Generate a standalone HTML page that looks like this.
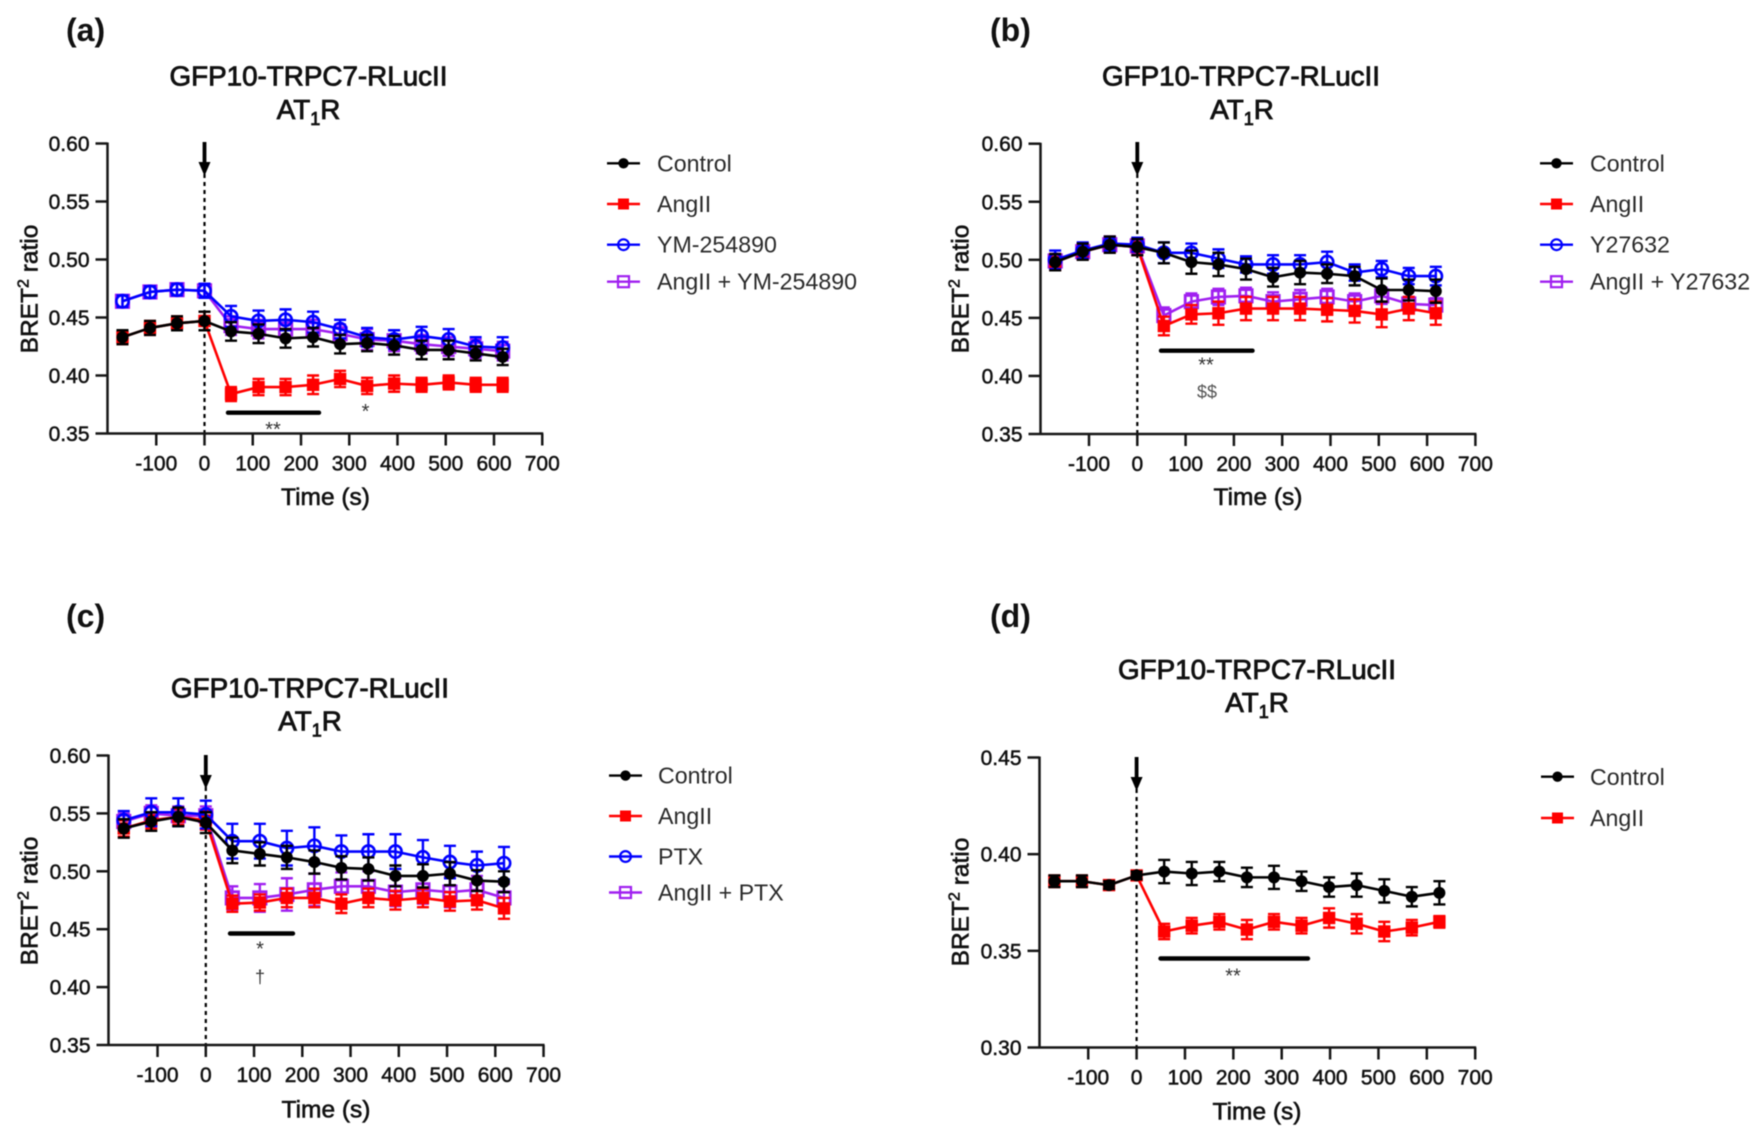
<!DOCTYPE html>
<html lang="en">
<head>
<meta charset="utf-8">
<title>BRET2 ratio time courses, GFP10-TRPC7-RLucII</title>
<style>
  html, body { margin: 0; padding: 0; background: #fff; }
  #figure { display: block; filter: blur(0.65px); }
  text { font-family: "Liberation Sans", Arial, sans-serif; }
  .panel-label { font-size: 32px; font-weight: bold; fill: #111; }
  .title { font-size: 27.8px; fill: #111; stroke: #111; stroke-width: .85px; text-anchor: middle; }
  .axis-title { font-size: 24.5px; fill: #111; stroke: #111; stroke-width: .6px; text-anchor: middle; }
  .tick-label { font-size: 21px; fill: #111; stroke: #111; stroke-width: .5px; }
  .legend-label { font-size: 23.2px; fill: #2a2a2a; }
  .sig { fill: #333; text-anchor: middle; }
</style>
</head>
<body>
<svg id="figure" xmlns="http://www.w3.org/2000/svg" width="1762" height="1138" viewBox="0 0 1762 1138">
  <rect x="0" y="0" width="1762" height="1138" fill="#fff"/>

  <!-- Panel a -->
  <g id="panel-a">
    <text class="panel-label" x="66" y="41">(a)</text>
    <text class="title" x="308.5" y="85.5">GFP10-TRPC7-RLucII</text>
    <text class="title" x="308.5" y="119">AT<tspan font-size="18" dy="6">1</tspan><tspan dy="-6">R</tspan></text>
    <text class="axis-title" transform="translate(37.5,289) rotate(-90)">BRET<tspan font-size="16" dy="-9">2</tspan><tspan dy="9"> ratio</tspan></text>
    <text class="axis-title" x="325.5" y="505">Time (s)</text>
    <line x1="228" y1="412.7" x2="319" y2="412.7" stroke="#000" stroke-width="4.4" stroke-linecap="round"/>
    <text class="sig" x="273" y="436" font-size="20">**</text>
    <text class="sig" x="365.5" y="418" font-size="20">*</text>
    <g>
      <g><line x1="607" x2="640" y1="163.3" y2="163.3" stroke="#000" stroke-width="2.4"/><circle cx="623.5" cy="163.3" r="5.2" fill="#000"/><text class="legend-label" x="657" y="171.5">Control</text></g>
      <g><line x1="607" x2="640" y1="204" y2="204" stroke="#f00" stroke-width="2.4"/><rect x="618" y="198.5" width="11" height="11" fill="#f00"/><text class="legend-label" x="657" y="212">AngII</text></g>
      <g><line x1="607" x2="640" y1="244.7" y2="244.7" stroke="#00f" stroke-width="2.4"/><circle cx="623.5" cy="244.7" r="5.4" fill="none" stroke="#00f" stroke-width="2.2"/><text class="legend-label" x="657" y="252.5">YM-254890</text></g>
      <g><line x1="607" x2="640" y1="281.7" y2="281.7" stroke="#a020f0" stroke-width="2.4"/><rect x="618" y="276.2" width="11" height="11" fill="none" stroke="#a020f0" stroke-width="2.2"/><text class="legend-label" x="657" y="289.5">AngII + YM-254890</text></g>
    </g>
  </g>

  <!-- Panel b -->
  <g id="panel-b">
    <text class="panel-label" x="990" y="41">(b)</text>
    <text class="title" x="1241" y="85.5">GFP10-TRPC7-RLucII</text>
    <text class="title" x="1242" y="119">AT<tspan font-size="18" dy="6">1</tspan><tspan dy="-6">R</tspan></text>
    <text class="axis-title" transform="translate(968.5,289) rotate(-90)">BRET<tspan font-size="16" dy="-9">2</tspan><tspan dy="9"> ratio</tspan></text>
    <text class="axis-title" x="1258" y="505">Time (s)</text>
    <line x1="1161" y1="350.7" x2="1252.5" y2="350.7" stroke="#000" stroke-width="4.4" stroke-linecap="round"/>
    <text class="sig" x="1206" y="371.5" font-size="20">**</text>
    <text class="sig" x="1207" y="398" font-size="18" style="fill:#555">$$</text>
    <g>
      <g><line x1="1540" x2="1573" y1="163.3" y2="163.3" stroke="#000" stroke-width="2.4"/><circle cx="1556.5" cy="163.3" r="5.2" fill="#000"/><text class="legend-label" x="1590" y="171.5">Control</text></g>
      <g><line x1="1540" x2="1573" y1="204" y2="204" stroke="#f00" stroke-width="2.4"/><rect x="1551" y="198.5" width="11" height="11" fill="#f00"/><text class="legend-label" x="1590" y="212">AngII</text></g>
      <g><line x1="1540" x2="1573" y1="244.7" y2="244.7" stroke="#00f" stroke-width="2.4"/><circle cx="1556.5" cy="244.7" r="5.4" fill="none" stroke="#00f" stroke-width="2.2"/><text class="legend-label" x="1590" y="252.5">Y27632</text></g>
      <g><line x1="1540" x2="1573" y1="281.7" y2="281.7" stroke="#a020f0" stroke-width="2.4"/><rect x="1551" y="276.2" width="11" height="11" fill="none" stroke="#a020f0" stroke-width="2.2"/><text class="legend-label" x="1590" y="289.5">AngII + Y27632</text></g>
    </g>
  </g>

  <!-- Panel c -->
  <g id="panel-c">
    <text class="panel-label" x="66" y="627">(c)</text>
    <text class="title" x="310" y="697.5">GFP10-TRPC7-RLucII</text>
    <text class="title" x="310" y="730.5">AT<tspan font-size="18" dy="6">1</tspan><tspan dy="-6">R</tspan></text>
    <text class="axis-title" transform="translate(37.5,901) rotate(-90)">BRET<tspan font-size="16" dy="-9">2</tspan><tspan dy="9"> ratio</tspan></text>
    <text class="axis-title" x="326" y="1117.5">Time (s)</text>
    <line x1="230" y1="933.5" x2="293" y2="933.5" stroke="#000" stroke-width="4.4" stroke-linecap="round"/>
    <text class="sig" x="260" y="955.5" font-size="20">*</text>
    <text class="sig" x="260" y="983" font-size="18">†</text>
    <g>
      <g><line x1="609" x2="642" y1="775.6" y2="775.6" stroke="#000" stroke-width="2.4"/><circle cx="625.5" cy="775.6" r="5.2" fill="#000"/><text class="legend-label" x="658" y="783.5">Control</text></g>
      <g><line x1="609" x2="642" y1="816" y2="816" stroke="#f00" stroke-width="2.4"/><rect x="620" y="810.5" width="11" height="11" fill="#f00"/><text class="legend-label" x="658" y="824">AngII</text></g>
      <g><line x1="609" x2="642" y1="856.5" y2="856.5" stroke="#00f" stroke-width="2.4"/><circle cx="625.5" cy="856.5" r="5.4" fill="none" stroke="#00f" stroke-width="2.2"/><text class="legend-label" x="658" y="864.5">PTX</text></g>
      <g><line x1="609" x2="642" y1="892.5" y2="892.5" stroke="#a020f0" stroke-width="2.4"/><rect x="620" y="887" width="11" height="11" fill="none" stroke="#a020f0" stroke-width="2.2"/><text class="legend-label" x="658" y="900.5">AngII + PTX</text></g>
    </g>
  </g>

  <!-- Panel d -->
  <g id="panel-d">
    <text class="panel-label" x="990" y="627">(d)</text>
    <text class="title" x="1257" y="679">GFP10-TRPC7-RLucII</text>
    <text class="title" x="1257" y="712">AT<tspan font-size="18" dy="6">1</tspan><tspan dy="-6">R</tspan></text>
    <text class="axis-title" transform="translate(968.5,902) rotate(-90)">BRET<tspan font-size="16" dy="-9">2</tspan><tspan dy="9"> ratio</tspan></text>
    <text class="axis-title" x="1257" y="1119.5">Time (s)</text>
    <line x1="1160.5" y1="958.5" x2="1308" y2="958.5" stroke="#000" stroke-width="4.4" stroke-linecap="round"/>
    <text class="sig" x="1233" y="982.5" font-size="20">**</text>
    <g>
      <g><line x1="1541" x2="1574" y1="776.7" y2="776.7" stroke="#000" stroke-width="2.4"/><circle cx="1557.5" cy="776.7" r="5.2" fill="#000"/><text class="legend-label" x="1590" y="785">Control</text></g>
      <g><line x1="1541" x2="1574" y1="818" y2="818" stroke="#f00" stroke-width="2.4"/><rect x="1552" y="812.5" width="11" height="11" fill="#f00"/><text class="legend-label" x="1590" y="826">AngII</text></g>
    </g>
  </g>
</svg>

<script>
// ---- Shared axis data ----
const xTickValues = [-100, 0, 100, 200, 300, 400, 500, 600, 700];
const yTicksUpper = [0.35, 0.40, 0.45, 0.50, 0.55, 0.60];
const yTicksLower = [0.30, 0.35, 0.40, 0.45];
const timesABC = [-170, -113, -57, 0, 55, 112, 168, 225, 281, 337, 393, 450, 506, 562, 618];
const timesD = [-170, -113, -57, 0, 57, 114, 171, 228, 284, 341, 398, 455, 512, 569, 626];

// ---- Panel a ----
const controlA = [0.433, 0.441, 0.445, 0.447, 0.438, 0.436, 0.432, 0.433, 0.427, 0.428, 0.426, 0.422, 0.422, 0.419, 0.416];
const controlAErr = [0.006, 0.006, 0.006, 0.008, 0.008, 0.008, 0.008, 0.008, 0.008, 0.007, 0.008, 0.008, 0.008, 0.006, 0.007];
const angiiA = [0.433, 0.441, 0.445, 0.447, 0.384, 0.390, 0.390, 0.392, 0.397, 0.391, 0.393, 0.392, 0.394, 0.392, 0.392];
const angiiAErr = [0.006, 0.006, 0.006, 0.008, 0.006, 0.007, 0.007, 0.008, 0.007, 0.007, 0.007, 0.006, 0.006, 0.006, 0.006];
const inhibitorA = [0.464, 0.472, 0.474, 0.473, 0.451, 0.447, 0.448, 0.446, 0.440, 0.433, 0.431, 0.434, 0.431, 0.425, 0.424];
const inhibitorAErr = [0.005, 0.005, 0.005, 0.006, 0.009, 0.009, 0.009, 0.009, 0.008, 0.008, 0.008, 0.008, 0.009, 0.008, 0.009];
const comboA = [0.464, 0.472, 0.474, 0.473, 0.443, 0.440, 0.440, 0.440, 0.436, 0.431, 0.430, 0.427, 0.425, 0.423, 0.421];
const comboAErr = [0.005, 0.005, 0.005, 0.006, 0.008, 0.008, 0.008, 0.008, 0.008, 0.009, 0.009, 0.008, 0.008, 0.008, 0.008];

// ---- Panel b ----
const controlB = [0.498, 0.507, 0.513, 0.511, 0.506, 0.498, 0.496, 0.492, 0.485, 0.489, 0.488, 0.486, 0.474, 0.474, 0.473];
const controlBErr = [0.007, 0.007, 0.007, 0.007, 0.009, 0.010, 0.010, 0.009, 0.008, 0.010, 0.008, 0.008, 0.010, 0.009, 0.010];
const angiiB = [0.498, 0.507, 0.513, 0.511, 0.443, 0.453, 0.454, 0.458, 0.458, 0.458, 0.457, 0.456, 0.453, 0.458, 0.454];
const angiiBErr = [0.007, 0.007, 0.007, 0.007, 0.008, 0.008, 0.010, 0.010, 0.010, 0.010, 0.010, 0.010, 0.011, 0.010, 0.010];
const inhibitorB = [0.500, 0.508, 0.514, 0.513, 0.506, 0.506, 0.501, 0.496, 0.496, 0.496, 0.498, 0.489, 0.492, 0.486, 0.486];
const inhibitorBErr = [0.008, 0.007, 0.006, 0.006, 0.009, 0.008, 0.008, 0.007, 0.008, 0.008, 0.009, 0.007, 0.007, 0.007, 0.008];
const comboB = [0.499, 0.507, 0.513, 0.512, 0.452, 0.464, 0.468, 0.469, 0.464, 0.466, 0.468, 0.464, 0.469, 0.462, 0.461];
const comboBErr = [0.006, 0.006, 0.006, 0.006, 0.007, 0.007, 0.007, 0.007, 0.008, 0.008, 0.007, 0.007, 0.007, 0.006, 0.006];

// ---- Panel c ----
const controlC = [0.537, 0.543, 0.547, 0.542, 0.518, 0.515, 0.512, 0.508, 0.503, 0.502, 0.496, 0.496, 0.498, 0.492, 0.491];
const controlCErr = [0.008, 0.008, 0.008, 0.009, 0.011, 0.010, 0.010, 0.010, 0.010, 0.010, 0.009, 0.010, 0.010, 0.009, 0.009];
const angiiC = [0.537, 0.544, 0.547, 0.544, 0.472, 0.473, 0.477, 0.477, 0.472, 0.477, 0.475, 0.477, 0.474, 0.475, 0.468];
const angiiCErr = [0.007, 0.007, 0.007, 0.008, 0.007, 0.007, 0.008, 0.008, 0.008, 0.008, 0.008, 0.008, 0.008, 0.008, 0.009];
const inhibitorC = [0.544, 0.551, 0.551, 0.549, 0.526, 0.526, 0.520, 0.522, 0.517, 0.517, 0.517, 0.512, 0.508, 0.505, 0.507];
const inhibitorCErr = [0.008, 0.012, 0.012, 0.012, 0.015, 0.015, 0.015, 0.016, 0.014, 0.015, 0.015, 0.015, 0.014, 0.012, 0.014];
const comboC = [0.543, 0.550, 0.548, 0.548, 0.477, 0.477, 0.480, 0.484, 0.487, 0.487, 0.482, 0.484, 0.482, 0.484, 0.477];
const comboCErr = [0.007, 0.007, 0.008, 0.008, 0.010, 0.012, 0.014, 0.014, 0.012, 0.013, 0.012, 0.012, 0.013, 0.012, 0.012];

// ---- Panel d ----
const controlD = [0.386, 0.386, 0.384, 0.389, 0.391, 0.390, 0.391, 0.388, 0.388, 0.386, 0.383, 0.384, 0.381, 0.378, 0.380];
const controlDErr = [0.003, 0.003, 0.002, 0.002, 0.006, 0.006, 0.005, 0.005, 0.006, 0.005, 0.005, 0.006, 0.006, 0.005, 0.006];
const angiiD = [0.386, 0.386, 0.384, 0.389, 0.360, 0.363, 0.365, 0.361, 0.365, 0.363, 0.367, 0.364, 0.360, 0.362, 0.365];
const angiiDErr = [0.003, 0.003, 0.002, 0.002, 0.004, 0.004, 0.004, 0.005, 0.004, 0.004, 0.005, 0.005, 0.005, 0.004, 0.003];

const SVG_NS = 'http://www.w3.org/2000/svg';
const INK = '#161616';

function make(parent, tag, attrs) {
  const node = document.createElementNS(SVG_NS, tag);
  for (const key in attrs) node.setAttribute(key, attrs[key]);
  parent.appendChild(node);
  return node;
}

function drawMarker(group, shape, cx, cy, color) {
  let mark;
  if (shape === 'filled-circle') {
    mark = make(group, 'circle', { cx: cx, cy: cy, r: 6, fill: color });
  } else if (shape === 'filled-square') {
    mark = make(group, 'rect', { x: cx - 6.2, y: cy - 6.2, width: 12.4, height: 12.4, fill: color });
  } else if (shape === 'open-circle') {
    mark = make(group, 'circle', { cx: cx, cy: cy, r: 6.2, fill: 'none', stroke: color, 'stroke-width': 2.6 });
  } else {
    mark = make(group, 'rect', { x: cx - 6.2, y: cy - 6.2, width: 12.4, height: 12.4, fill: 'none', stroke: color, 'stroke-width': 2.8 });
  }
  
  
}

function drawSeries(root, name, times, values, errors, color, shape, x, y) {
  const group = make(root, 'g', {});
  
  

  const points = times.map((t, i) => x(t).toFixed(2) + ',' + y(values[i]).toFixed(2)).join(' ');
  const line = make(group, 'polyline', { points: points, fill: 'none', stroke: color, 'stroke-width': 2.6, 'stroke-linejoin': 'round' });
  
  

  times.forEach((t, i) => {
    const cx = x(t);
    const top = y(values[i] + errors[i]);
    const bottom = y(values[i] - errors[i]);
    const bar = make(group, 'path', {
      d: 'M' + (cx - 6) + ' ' + top + 'H' + (cx + 6) + 'M' + cx + ' ' + top + 'V' + bottom + 'M' + (cx - 6) + ' ' + bottom + 'H' + (cx + 6),
      fill: 'none', stroke: color, 'stroke-width': 2.4
    });
    
    
    drawMarker(group, shape, cx, y(values[i]), color);
  });
}

function drawAxes(root, x, y, xTicks, yTicks, axisX, axisY, topY) {
  const yAxis = make(root, 'line', { x1: axisX, x2: axisX, y1: topY - 1, y2: axisY + 1, stroke: INK, 'stroke-width': 2.5 });
  
  

  const xAxis = make(root, 'line', { x1: axisX, x2: x(xTicks[xTicks.length - 1]) + 1, y1: axisY, y2: axisY, stroke: INK, 'stroke-width': 2.5 });
  
  

  xTicks.forEach((v) => {
    const tick = make(root, 'line', { x1: x(v), x2: x(v), y1: axisY, y2: axisY + 12, stroke: INK, 'stroke-width': 2.5 });
    
    
    const label = make(root, 'text', { x: x(v), y: axisY + 37, 'text-anchor': 'middle', class: 'tick-label' });
    label.textContent = String(v);
    
    
  });

  yTicks.forEach((v) => {
    const tick = make(root, 'line', { x1: axisX - 12, x2: axisX, y1: y(v), y2: y(v), stroke: INK, 'stroke-width': 2.5 });
    
    
    const label = make(root, 'text', { x: axisX - 18, y: y(v) + 7.5, 'text-anchor': 'end', class: 'tick-label' });
    label.textContent = v.toFixed(2);
    
    
  });
}

function drawStimulus(root, x, axisY, arrowTop) {
  const dashed = make(root, 'line', { x1: x(0), x2: x(0), y1: arrowTop + 32, y2: axisY, stroke: '#000', 'stroke-width': 2.2, 'stroke-dasharray': '4 4' });
  
  
  const shaft = make(root, 'line', { x1: x(0), x2: x(0), y1: arrowTop, y2: arrowTop + 24, stroke: '#000', 'stroke-width': 3.8 });
  
  
  const head = make(root, 'path', { d: 'M' + (x(0) - 6) + ' ' + (arrowTop + 20) + 'H' + (x(0) + 6) + 'L' + x(0) + ' ' + (arrowTop + 34) + 'Z', fill: '#000' });
  
  
}

function drawPanel(id, layout, yMin, yMax, yTicks, seriesList) {
  const root = document.getElementById(id);
  const x = (t) => layout.zeroX + t * layout.pxPer100 / 100;
  const y = (v) => layout.axisY - (v - yMin) / (yMax - yMin) * (layout.axisY - layout.topY);
  drawStimulus(root, x, layout.axisY, layout.arrowTop);
  seriesList.forEach((s) => drawSeries(root, s.name, s.times, s.values, s.errors, s.color, s.shape, x, y));
  drawAxes(root, x, y, xTickValues, yTicks, layout.axisX, layout.axisY, layout.topY);
}

const PURPLE = '#a020f0', RED = '#ff0000', BLUE = '#0000ff', BLACK = '#000000';

drawPanel('panel-a', { axisX: 107.5, zeroX: 204.5, pxPer100: 48.25, topY: 143.5, axisY: 433.5, arrowTop: 142 }, 0.35, 0.60, yTicksUpper, [
  { name: 'angii-ym-254890', times: timesABC, values: comboA, errors: comboAErr, color: PURPLE, shape: 'open-square' },
  { name: 'angii', times: timesABC, values: angiiA, errors: angiiAErr, color: RED, shape: 'filled-square' },
  { name: 'ym-254890', times: timesABC, values: inhibitorA, errors: inhibitorAErr, color: BLUE, shape: 'open-circle' },
  { name: 'control', times: timesABC, values: controlA, errors: controlAErr, color: BLACK, shape: 'filled-circle' }
]);

drawPanel('panel-b', { axisX: 1040.5, zeroX: 1137.3, pxPer100: 48.3, topY: 143.7, axisY: 434, arrowTop: 142 }, 0.35, 0.60, yTicksUpper, [
  { name: 'angii-y27632', times: timesABC, values: comboB, errors: comboBErr, color: PURPLE, shape: 'open-square' },
  { name: 'angii', times: timesABC, values: angiiB, errors: angiiBErr, color: RED, shape: 'filled-square' },
  { name: 'y27632', times: timesABC, values: inhibitorB, errors: inhibitorBErr, color: BLUE, shape: 'open-circle' },
  { name: 'control', times: timesABC, values: controlB, errors: controlBErr, color: BLACK, shape: 'filled-circle' }
]);

drawPanel('panel-c', { axisX: 108.5, zeroX: 205.8, pxPer100: 48.25, topY: 755.5, axisY: 1045, arrowTop: 755 }, 0.35, 0.60, yTicksUpper, [
  { name: 'angii-ptx', times: timesABC, values: comboC, errors: comboCErr, color: PURPLE, shape: 'open-square' },
  { name: 'angii', times: timesABC, values: angiiC, errors: angiiCErr, color: RED, shape: 'filled-square' },
  { name: 'ptx', times: timesABC, values: inhibitorC, errors: inhibitorCErr, color: BLUE, shape: 'open-circle' },
  { name: 'control', times: timesABC, values: controlC, errors: controlCErr, color: BLACK, shape: 'filled-circle' }
]);

drawPanel('panel-d', { axisX: 1039.5, zeroX: 1136.6, pxPer100: 48.37, topY: 757.5, axisY: 1047.5, arrowTop: 757 }, 0.30, 0.45, yTicksLower, [
  { name: 'angii', times: timesD, values: angiiD, errors: angiiDErr, color: RED, shape: 'filled-square' },
  { name: 'control', times: timesD, values: controlD, errors: controlDErr, color: BLACK, shape: 'filled-circle' }
]);
</script>
</body>
</html>
